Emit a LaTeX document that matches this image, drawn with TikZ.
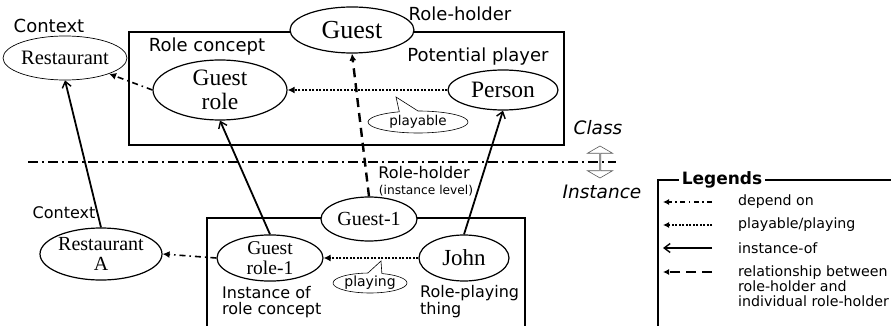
\documentclass[tikz,border=0pt]{standalone}
\usepackage{fontspec}
\setmainfont{Liberation Serif}
\setsansfont{DejaVu Sans}
\usetikzlibrary{shapes.geometric,shapes.callouts,shapes.arrows,arrows.meta}
\newcommand{\myfs}[2]{\fontsize{#1}{#2}\selectfont}
\begin{document}
\begin{tikzpicture}[x=1pt,y=-1pt,
 ell/.style={ellipse,draw,line width=1.2pt,inner sep=0pt,fill=white,align=center,font=\rmfamily\myfs{23.5}{23.5}},
 lbl/.style={font=\sffamily\myfs{18}{20},inner sep=0pt},
 slbl/.style={font=\sffamily\myfs{16}{17},inner sep=0pt,align=left},
 boxline/.style={draw,line width=2pt,inner sep=0pt},
 instof/.style={line width=1.8pt,-{Straight Barb[length=6pt,width=9pt,line width=1.4pt]}},
 depon/.style={line width=1.6pt,dash pattern=on 6pt off 4pt on 1.5pt off 4pt,-{Latex[length=7pt,width=7pt]}},
 playl/.style={line width=2.2pt,dash pattern=on 2pt off 1.5pt,-{Latex[length=7pt,width=7pt]}},
 rhl/.style={line width=2.4pt,dash pattern=on 9pt off 6pt,-{Latex[length=7pt,width=7pt]}},
 classline/.style={line width=1.1pt,dash pattern=on 10pt off 4pt on 2pt off 4pt},
 callbox/.style={ellipse callout,draw,line width=0.6pt,inner sep=0pt,callout pointer arc=22,font=\sffamily\myfs{13.5}{14}},
 legtxt/.style={font=\sffamily\myfs{14.2}{15},inner sep=0pt,anchor=west,align=left},
]
\useasboundingbox (0,0) rectangle (891,326);
\clip (0,0) rectangle (891,326);

% ---------- class level ----------
\node[boxline,minimum width=435pt,minimum height=113pt] (rcbox) at (346.5,88.5) {};
\node[ell,line width=0.7pt,minimum width=110pt,minimum height=44pt,font=\rmfamily\myfs{20.5}{20}] (rest) at (65,58) {Restaurant};
\node[lbl] (ctx1) at (49,26) {Context};
\node[lbl] (rclbl) at (207,47) {Role concept};
\node[ell,minimum width=134pt,minimum height=60pt] (gr) at (220,90) {Guest\\role};
\node[ell,minimum width=124pt,minimum height=46pt,font=\rmfamily\myfs{26}{26}] (guest) at (352,30) {Guest};
\node[lbl] (rh) at (460,14) {Role-holder};
\node[lbl] (pp) at (478,57) {Potential player};
\node[ell,minimum width=110pt,minimum height=40pt] (person) at (503,90) {Person};
\node[callbox,minimum width=100pt,minimum height=22pt,callout absolute pointer={(396,97)}] (pbl) at (418,122) {playable};

% ---------- class / instance separator ----------
\coordinate (cl0) at (28,162);
\coordinate (cl1) at (616,162);
\node[double arrow,draw=black!65,line width=0.6pt,shape border rotate=90,minimum height=32pt,minimum width=25pt,double arrow head extend=5pt,double arrow tip angle=120,inner sep=0pt] (ci) at (600,162) {};
\draw[classline] (cl0) -- (cl1);
\node[font=\sffamily\itshape\myfs{18.5}{19},inner sep=0pt] (cls) at (598,128) {Class};
\node[font=\sffamily\itshape\myfs{18.5}{19},inner sep=0pt] (ins) at (602,192) {Instance};

% ---------- instance level ----------
\node[boxline,minimum width=318pt,minimum height=122pt] (ibox) at (366,279) {};
\node[ell,minimum width=96pt,minimum height=44pt,font=\rmfamily\myfs{20}{20}] (g1) at (369,219) {Guest-1};
\node[slbl] (rhi) at (424,173) {Role-holder};
\node[font=\sffamily\myfs{12.2}{13},inner sep=0pt] (rhil) at (426,191) {(instance level)};
\node[ell,minimum width=106pt,minimum height=44pt,font=\rmfamily\myfs{19.5}{19.5}] (gr1) at (270,258) {Guest\\role-1};
\node[ell,minimum width=122pt,minimum height=52pt,font=\rmfamily\myfs{20}{20}] (ra) at (101,254) {Restaurant\\A};
\node[slbl] (ctx2) at (64,213) {Context};
\node[ell,minimum width=90pt,minimum height=46pt,font=\rmfamily\myfs{23}{23}] (john) at (464,258) {John};
\node[callbox,minimum width=74pt,minimum height=20pt,font=\sffamily\myfs{14}{14},callout absolute pointer={(381,261)}] (plg) at (370,283) {playing};
\node[slbl,anchor=north west,font=\sffamily\myfs{16}{16}] (iorc) at (222,286) {Instance of\\role concept};
\node[slbl,anchor=north west,font=\sffamily\myfs{16}{17}] (rpt) at (420,285) {Role-playing\\thing};

% ---------- connectors ----------
\draw[depon] (gr.west) -- (rest.south east);
\draw[playl] (person.west) -- (gr.east);
\draw[instof] (ra.north) -- (rest.south);
\draw[instof] (gr1.north) -- (gr.south);
\draw[instof] (john.north) -- (person.south);
\draw[rhl] (g1.north) -- (guest.south);
\draw[depon] (gr1.west) -- (ra.east);
\draw[playl] (john.west) -- (gr1.east);

% ---------- legend ----------
\coordinate (lgb) at (658,340);
\coordinate (lgc) at (658,180);
\coordinate (lgr) at (900,180);
\draw[line width=2pt] (lgb) -- (lgc) -- (lgr);
\node[fill=white,font=\sffamily\bfseries\myfs{17}{17},inner xsep=3pt,inner ysep=1pt] (leg) at (722,180) {Legends};
\coordinate (a1) at (712,202); \coordinate (b1) at (663,202);
\coordinate (a2) at (712,225); \coordinate (b2) at (663,225);
\coordinate (a3) at (712,248); \coordinate (b3) at (663,248);
\coordinate (a4) at (712,272); \coordinate (b4) at (663,272);
\draw[depon,line width=1.3pt,dash pattern=on 5pt off 3.5pt on 1.5pt off 3.5pt,-{Latex[length=6pt,width=6pt]}] (a1) -- (b1);
\draw[playl,line width=2pt,-{Latex[length=6pt,width=6pt]}] (a2) -- (b2);
\draw[instof,line width=1.6pt] (a3) -- (b3);
\draw[rhl,line width=2.6pt,dash pattern=on 10pt off 6pt,-{Latex[length=6pt,width=6pt]}] (a4) -- (b4);
\node[legtxt] (t1) at (738,202) {depend on};
\node[legtxt] (t2) at (738,225) {playable/playing};
\node[legtxt] (t3) at (738,248) {instance-of};
\node[legtxt,anchor=north west] (t4) at (738,266) {relationship between\\role-holder and\\individual role-holder};
\end{tikzpicture}
\end{document}
